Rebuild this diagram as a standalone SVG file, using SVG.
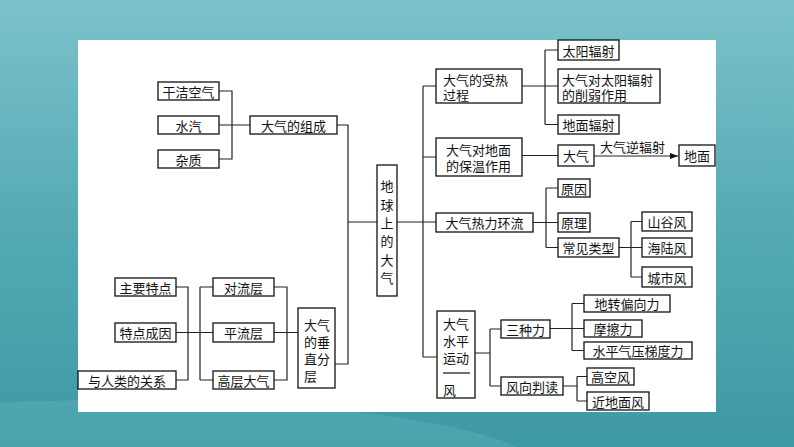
<svg xmlns="http://www.w3.org/2000/svg" width="794" height="447" viewBox="0 0 794 447">
<defs>
<linearGradient id="bg" x1="0" y1="0" x2="0" y2="1">
<stop offset="0" stop-color="#7cc2ca"/>
<stop offset="0.5" stop-color="#55aab4"/>
<stop offset="1" stop-color="#3d99a4"/>
</linearGradient>
<marker id="ah" markerWidth="8" markerHeight="6" refX="8" refY="3" orient="auto" markerUnits="userSpaceOnUse">
<path d="M0,0 L8,3 L0,6 Z" fill="#111"/>
</marker>
<style>
.b{fill:#fff;stroke:#111;stroke-width:1.3}
.t{font-family:"Noto Sans CJK SC","Noto Sans CJK TC",sans-serif;font-size:13px;fill:#111}
.s{dominant-baseline:central}
.m{text-anchor:middle;dominant-baseline:central}
.c{fill:none;stroke:#222;stroke-width:1.2}
</style>
</defs>
<rect x="0" y="0" width="794" height="447" fill="url(#bg)"/>
<ellipse cx="120" cy="470" rx="420" ry="70" fill="#6ab7bf" opacity="0.35"/>
<rect x="78" y="40" width="638" height="372" fill="#fff"/>

<g id="connectors" class="c">
<path d="M219 91 H232 V159 H219 M219 125 H250"/>
<path d="M337 125 H348 V364 H335 M348 222 H377"/>
<path d="M397 222 H423 M423 86 V357 M423 86 H436 M423 157 H436 M423 222 H436 M423 357 H437"/>
<path d="M522 86 H558 M545 50 V124.5 M545 50 H558 M545 124.5 H558"/>
<path d="M522 155.5 H558"/>
<path d="M594 156 H678" marker-end="url(#ah)"/>
<path d="M533 222.5 H558 M546 188 V247.5 M546 188 H558 M546 247.5 H558"/>
<path d="M619 247.5 H642 M631 221.5 V277 M631 221.5 H642 M631 277 H642"/>
<path d="M475 353 H490 M490 329 V386 M490 329 H501 M490 386 H501"/>
<path d="M550 328.5 H584 M572 303.5 V350.5 M572 303.5 H584 M572 350.5 H584"/>
<path d="M563 386 H577 M577 376.5 V401 M577 376.5 H587 M577 401 H587"/>
<path d="M176 287 H188 V380 H176 M176 332.5 H213 M200 287 V380 M200 287 H213 M200 380 H213"/>
<path d="M274 287 H287 V380 H274 M274 332.5 H298"/>
</g>

<g id="n-ganjie"><rect class="b" x="158" y="82" width="61" height="18"/><text class="t m" x="188.5" y="91">干洁空气</text></g>
<g id="n-shuiqi"><rect class="b" x="158" y="116" width="61" height="18"/><text class="t m" x="188.5" y="125">水汽</text></g>
<g id="n-zazhi"><rect class="b" x="158" y="150" width="61" height="18"/><text class="t m" x="188.5" y="159">杂质</text></g>
<g id="n-zucheng"><rect class="b" x="250" y="116" width="87" height="18"/><text class="t m" x="293.5" y="125">大气的组成</text></g>

<g id="n-root"><rect class="b" x="377" y="165" width="20" height="131"/>
<text class="t m" x="387" y="185"><tspan x="387" y="185">地</tspan><tspan x="387" y="203.5">球</tspan><tspan x="387" y="222">上</tspan><tspan x="387" y="240">的</tspan><tspan x="387" y="258.5">大</tspan><tspan x="387" y="277">气</tspan></text></g>

<g id="n-shoure"><rect class="b" x="436" y="69" width="86" height="34"/><text class="t s" x="443" y="79"><tspan x="443" y="79">大气的受热</tspan><tspan x="443" y="94">过程</tspan></text></g>
<g id="n-taiyang"><rect class="b" x="558" y="40" width="61" height="20"/><text class="t m" x="588.5" y="50">太阳辐射</text></g>
<g id="n-xueruo"><rect class="b" x="558" y="69" width="102" height="34"/><text class="t s" x="562" y="79"><tspan x="562" y="79">大气对太阳辐射</tspan><tspan x="562" y="94">的削弱作用</tspan></text></g>
<g id="n-dimianfs"><rect class="b" x="558" y="115" width="61" height="19"/><text class="t m" x="588.5" y="124.5">地面辐射</text></g>

<g id="n-baowen"><rect class="b" x="436" y="138" width="86" height="38"/><text class="t s" x="446" y="149"><tspan x="446" y="149">大气对地面</tspan><tspan x="446" y="165">的保温作用</tspan></text></g>
<g id="n-daqi"><rect class="b" x="558" y="145" width="36" height="21"/><text class="t m" x="576" y="155.5">大气</text></g>
<text class="t" x="600" y="152">大气逆辐射</text>
<g id="n-dimian"><rect class="b" x="679" y="145" width="36" height="21"/><text class="t m" x="697" y="155.5">地面</text></g>

<g id="n-huanliu"><rect class="b" x="436" y="213" width="97" height="19"/><text class="t m" x="484.5" y="222.5">大气热力环流</text></g>
<g id="n-yuanyin"><rect class="b" x="558" y="179" width="32" height="18"/><text class="t m" x="574" y="188">原因</text></g>
<g id="n-yuanli"><rect class="b" x="558" y="213" width="32" height="19"/><text class="t m" x="574" y="222.5">原理</text></g>
<g id="n-leixing"><rect class="b" x="558" y="238" width="61" height="19"/><text class="t m" x="588.5" y="247.5">常见类型</text></g>
<g id="n-shangu"><rect class="b" x="642" y="212" width="50" height="19"/><text class="t m" x="667" y="221.5">山谷风</text></g>
<g id="n-hailu"><rect class="b" x="642" y="238" width="50" height="19"/><text class="t m" x="667" y="247.5">海陆风</text></g>
<g id="n-chengshi"><rect class="b" x="642" y="267" width="50" height="20"/><text class="t m" x="667" y="277">城市风</text></g>

<g id="n-shuiping"><rect class="b" x="437" y="311" width="38" height="87"/>
<text class="t s" x="443" y="323"><tspan x="443" y="323">大气</tspan><tspan x="443" y="340">水平</tspan><tspan x="443" y="357">运动</tspan><tspan x="443" y="389">风</tspan></text>
<line x1="443" y1="373" x2="470" y2="373" stroke="#111" stroke-width="1.2"/></g>
<g id="n-sanzhong"><rect class="b" x="501" y="320" width="49" height="18"/><text class="t m" x="525.5" y="329">三种力</text></g>
<g id="n-panduan"><rect class="b" x="501" y="377" width="62" height="18"/><text class="t m" x="532" y="386">风向判读</text></g>
<g id="n-dizhuan"><rect class="b" x="584" y="295" width="86" height="17"/><text class="t m" x="627" y="303.5">地转偏向力</text></g>
<g id="n-moca"><rect class="b" x="584" y="320" width="58" height="17"/><text class="t m" x="613" y="328.5">摩擦力</text></g>
<g id="n-qiya"><rect class="b" x="584" y="342" width="108" height="17"/><text class="t m" x="638" y="350.5">水平气压梯度力</text></g>
<g id="n-gaokong"><rect class="b" x="587" y="368" width="47" height="17"/><text class="t m" x="610.5" y="376.5">高空风</text></g>
<g id="n-jindimian"><rect class="b" x="587" y="392" width="62" height="18"/><text class="t m" x="618" y="401">近地面风</text></g>

<g id="n-tedian"><rect class="b" x="115" y="278" width="61" height="18"/><text class="t m" x="145.5" y="287">主要特点</text></g>
<g id="n-chengyin"><rect class="b" x="115" y="323" width="61" height="19"/><text class="t m" x="145.5" y="332.5">特点成因</text></g>
<g id="n-guanxi"><rect class="b" x="78" y="371" width="98" height="18"/><text class="t m" x="127" y="380">与人类的关系</text></g>
<g id="n-duiliu"><rect class="b" x="213" y="278" width="61" height="18"/><text class="t m" x="243.5" y="287">对流层</text></g>
<g id="n-pingliu"><rect class="b" x="213" y="323" width="61" height="19"/><text class="t m" x="243.5" y="332.5">平流层</text></g>
<g id="n-gaoceng"><rect class="b" x="213" y="371" width="61" height="18"/><text class="t m" x="243.5" y="380">高层大气</text></g>
<g id="n-chuizhi"><rect class="b" x="298" y="308" width="37" height="80"/>
<text class="t s" x="304" y="324"><tspan x="304" y="324">大气</tspan><tspan x="304" y="341">的垂</tspan><tspan x="304" y="358">直分</tspan><tspan x="304" y="375">层</tspan></text></g>
</svg>
